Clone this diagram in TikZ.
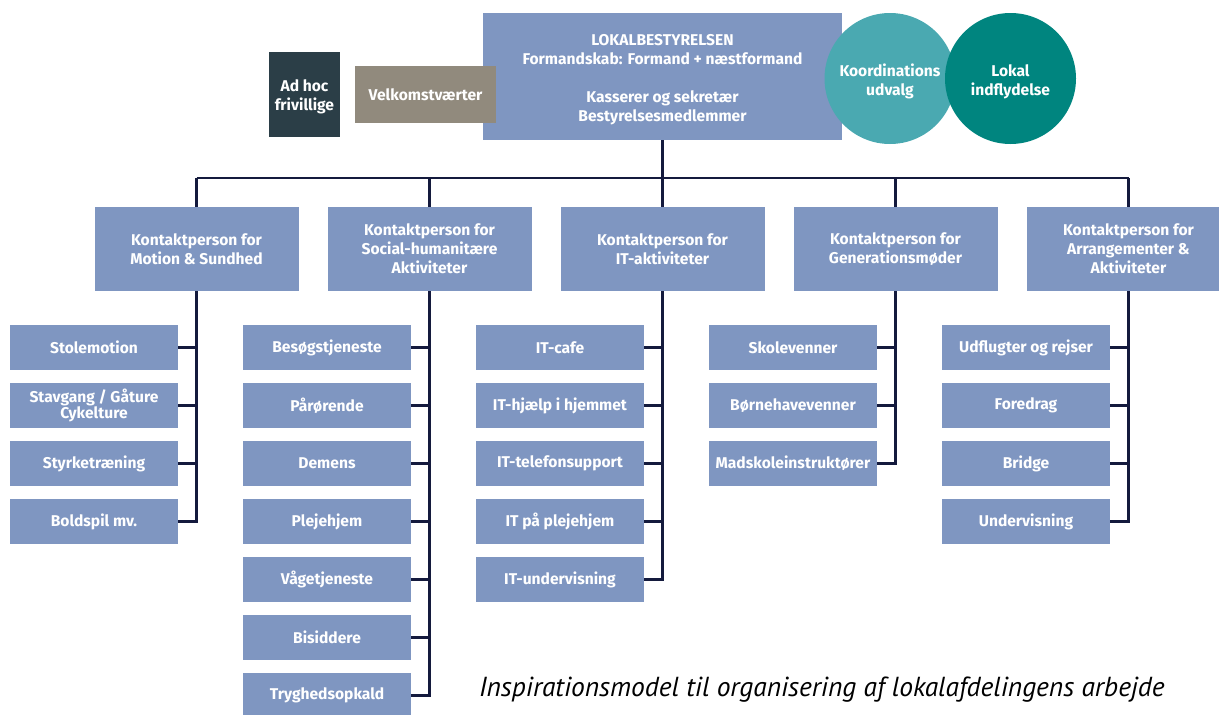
\documentclass[tikz,border=0pt]{standalone}
\usepackage{fontspec}
\setmainfont{Fira Sans}
\newfontfamily\capfont{PT Sans}
\definecolor{boxblue}{HTML}{7F96C1}
\definecolor{darkbox}{HTML}{2B3E47}
\definecolor{taupe}{HTML}{918A7D}
\definecolor{tealA}{HTML}{4AA9B1}
\definecolor{tealB}{HTML}{00857F}
\definecolor{linecol}{HTML}{141A3D}
\begin{document}
\begin{tikzpicture}[x=1pt,y=-1pt,
  every node/.style={inner sep=0pt, outer sep=0pt, text=white, font=\fontsize{15.6}{19}\selectfont\bfseries, align=center},
  lvltwo/.style={fill=boxblue, minimum width=204pt, minimum height=84pt},
  lvlthree/.style={fill=boxblue, minimum width=168pt, minimum height=45pt},
  conn/.style={draw=linecol, line width=2.6pt}]
\useasboundingbox (0,0) rectangle (1219,715);
\clip (0,0) rectangle (1219,715);
% top
\node[fill=darkbox, minimum width=71pt, minimum height=85pt] (adhoc) at (304.5,94.5) {};
\node (adhoctxt) at (304.5,96.5) {Ad hoc\\frivillige};
\node[fill=boxblue, minimum width=359pt, minimum height=127pt] (main) at (662.5,76.5) {};
\node[fill=taupe, minimum width=141pt, minimum height=57pt] (velk) at (425.5,94.5) {Velkomstværter};
\node (maintxt) at (662.5,79.5) {LOKALBESTYRELSEN\\Formandskab: Formand + næstformand\\[19pt]Kasserer og sekretær\\Bestyrelsesmedlemmer};
\node[circle, fill=tealA, minimum size=131pt] (koord) at (890,78.5) {};
\node (koordtxt) at (890,81.5) {Koordinations\\udvalg};
\node[circle, fill=tealB, minimum size=131pt] (lokal) at (1010.5,78.5) {};
\node (lokaltxt) at (1010.5,81.5) {Lokal\\indflydelse};
% level two
\node[lvltwo] (k1) at (196.5,249) {Kontaktperson for\\Motion \& Sundhed};
\node[lvltwo] (k2) at (429.5,249) {Kontaktperson for\\Social-humanitære\\Aktiviteter};
\node[lvltwo] (k3) at (662.5,249) {Kontaktperson for\\IT-aktiviteter};
\node[lvltwo] (k4) at (895.5,249) {Kontaktperson for\\Generationsmøder};
\node[lvltwo] (k5) at (1128.5,249) {Kontaktperson for\\Arrangementer \&\\Aktiviteter};
\coordinate (bar) at (662.5,178);
\draw[conn] (main.south) -- (bar);
\draw[conn] (k1.north |- bar) -- (k5.north |- bar);
\foreach \k in {k1,k2,k3,k4,k5} \draw[conn] (\k.north |- bar) -- (\k.north);
% level three
\foreach \lbl [count=\i] in {Stolemotion,{Stavgang / Gåture\\[-3pt]Cykelture},Styrketræning,Boldspil mv.}
  \node[lvlthree] (a\i) at (94,289.5+58*\i) {\lbl};
\foreach \lbl [count=\i] in {Besøgstjeneste,Pårørende,Demens,Plejehjem,Vågetjeneste,Bisiddere,Tryghedsopkald}
  \node[lvlthree] (b\i) at (327,289.5+58*\i) {\lbl};
\foreach \lbl [count=\i] in {IT-cafe,IT-hjælp i hjemmet,IT-telefonsupport,IT på plejehjem,IT-undervisning}
  \node[lvlthree] (c\i) at (560,289.5+58*\i) {\lbl};
\foreach \lbl [count=\i] in {Skolevenner,Børnehavevenner,Madskoleinstruktører}
  \node[lvlthree] (d\i) at (793,289.5+58*\i) {\lbl};
\foreach \lbl [count=\i] in {Udflugter og rejser,Foredrag,Bridge,Undervisning}
  \node[lvlthree] (e\i) at (1026,289.5+58*\i) {\lbl};
% connectors level three
\draw[conn] (k1.south) |- (a4.east);
\foreach \i in {1,2,3} \draw[conn] (a\i.east) -- (a\i.east -| k1.south);
\draw[conn] (k2.south) |- (b7.east);
\foreach \i in {1,...,6} \draw[conn] (b\i.east) -- (b\i.east -| k2.south);
\draw[conn] (k3.south) |- (c5.east);
\foreach \i in {1,...,4} \draw[conn] (c\i.east) -- (c\i.east -| k3.south);
\draw[conn] (k4.south) |- (d3.east);
\foreach \i in {1,2} \draw[conn] (d\i.east) -- (d\i.east -| k4.south);
\draw[conn] (k5.south) |- (e4.east);
\foreach \i in {1,2,3} \draw[conn] (e\i.east) -- (e\i.east -| k5.south);
% caption
\node[text=black, font=\capfont\fontsize{27.5}{30}\selectfont\itshape, anchor=west] (cap) at (479,690) {Inspirationsmodel til organisering af lokalafdelingens arbejde};
\end{tikzpicture}
\end{document}
